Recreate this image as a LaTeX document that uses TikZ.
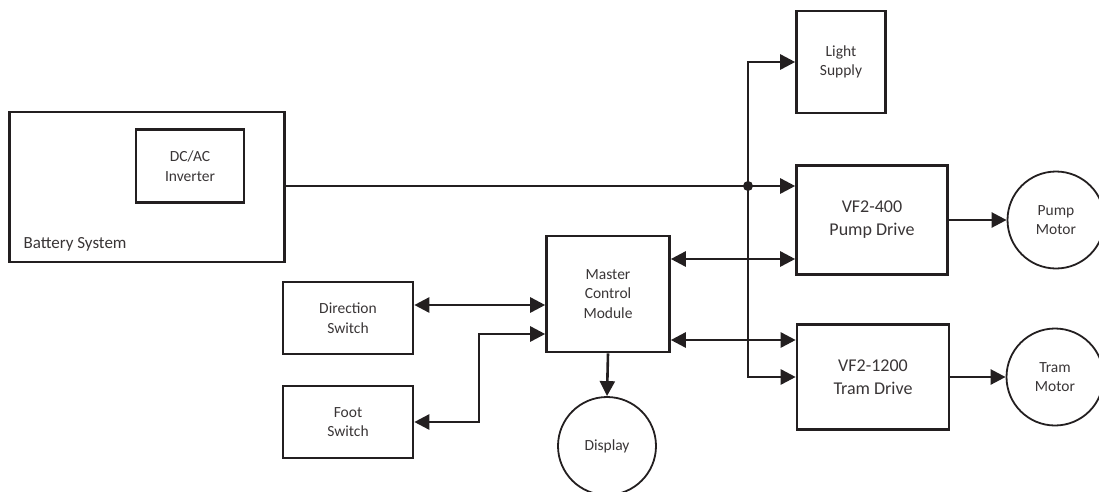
\documentclass[tikz,border=0pt]{standalone}
\usepackage{fontspec}
\setmainfont{Carlito}
\usetikzlibrary{arrows.meta,calc}
\definecolor{ink}{HTML}{231F20}

\begin{document}
\begin{tikzpicture}[x=1pt, y=-1pt,
  every node/.style={text=ink!90, font=\fontsize{15.5}{19.5}\selectfont},
  block/.style={draw=ink, line width=2.6pt, align=center, inner sep=0pt},
  motor/.style={draw=ink, line width=1.8pt, circle, align=center, inner sep=0pt, minimum size=97pt},
  wire/.style={draw=ink, line width=2.6pt},
  tip/.style={wire, -{Triangle[length=15pt,width=15pt]}},
  both/.style={wire, {Triangle[length=15pt,width=15pt]}-{Triangle[length=15pt,width=15pt]}}
  ]
  \useasboundingbox (0,0) rectangle (1099,491);
  % battery side
  \node[block, minimum width=275pt, minimum height=150pt] (battery) at (147,187) {};
  \node[anchor=base west, font=\fontsize{17}{20}\selectfont] (batlabel) at (20,248) {Battery System};
  \node[block, minimum width=108pt, minimum height=73pt] (inverter) at (190,166) {DC/AC\\Inverter};
  % drives and loads
  \node[block, minimum width=89pt, minimum height=102pt] (light) at (841,62) {Light\\Supply};
  \node[block, minimum width=151pt, minimum height=109pt, font=\fontsize{18}{23}\selectfont] (pump) at (872,220) {VF2-400\\Pump Drive};
  \node[block, minimum width=152pt, minimum height=105pt, font=\fontsize{18}{23}\selectfont] (tram) at (873,377) {VF2-1200\\Tram Drive};
  \node[motor] (pmotor) at (1056,220) {Pump\\Motor};
  \node[motor] (tmotor) at (1055,377) {Tram\\Motor};
  % control side
  \node[block, minimum width=123pt, minimum height=116pt] (master) at (608,294) {Master\\Control\\Module};
  \node[block, minimum width=130pt, minimum height=72pt] (direction) at (348,318) {Direction\\Switch};
  \node[block, minimum width=130pt, minimum height=72pt] (foot) at (348,422) {Foot\\Switch};
  \node[motor, minimum size=98pt] (display) at (607,446) {Display};

  % supply bus
  \coordinate (bus) at (748,186);
  \coordinate (fbend) at (479,334);
  \draw[wire] (battery.east |- bus) -- (bus);
  \draw[tip] (bus) -- (pump.west |- bus);
  \draw[tip] (bus) |- (light.west);
  \draw[tip] (bus) |- (tram.west);
  \fill[ink] (bus) circle (5pt);

  \draw[tip] (pump.east) -- (pmotor.west);
  \draw[tip] (tram.east) -- (tmotor.west);
  \draw[both] (master.east |- 0,259) -- (pump.west |- 0,259);
  \draw[both] (master.east |- 0,340) -- (tram.west |- 0,340);
  \draw[both] (direction.east |- 0,305) -- (master.west |- 0,305);
  \draw[both] (foot.east) -| (fbend) -- (master.west |- fbend);
  \draw[tip] (master.south) -- (display.north);
\end{tikzpicture}
\end{document}
